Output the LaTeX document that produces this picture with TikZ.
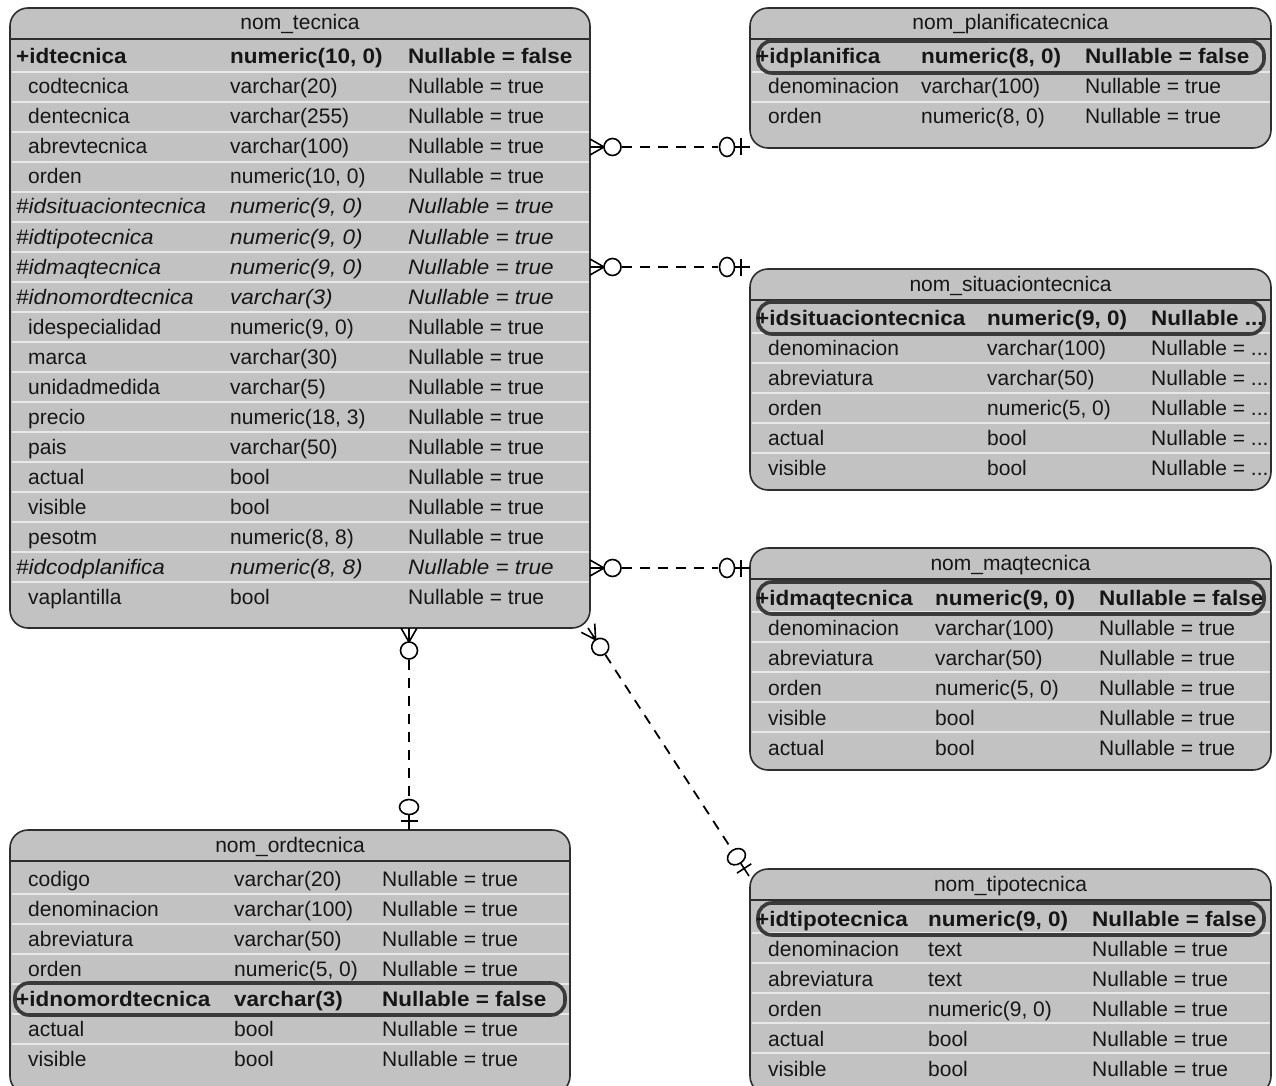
\documentclass[tikz,border=0pt]{standalone}
\usepackage{fontspec}
\setmainfont{Liberation Sans}
\newfontfamily\bfam{Liberation Sans}[FakeStretch=1.07]
\usetikzlibrary{calc}
\definecolor{tabfill}{HTML}{C2C2C2}
\definecolor{tabline}{HTML}{2E2E2E}
\definecolor{sepline}{HTML}{E8E8E8}
\definecolor{keyline}{HTML}{3A3A3A}
\definecolor{txt}{HTML}{161616}
\tikzset{
  tbl/.style={fill=tabfill, draw=tabline, line width=1.6pt, rounded corners=18pt},
  hdr/.style={draw=tabline, line width=2.2pt},
  sepl/.style={draw=sepline, line width=1.6pt},
  keyoval/.style={draw=keyline, line width=3.6pt, rounded corners=14pt},
  cell/.style={anchor=base west, inner sep=0pt, text=txt, font=\fontsize{21}{24}\selectfont},
  kcell/.style={cell, font=\bfam\bfseries\fontsize{21}{24}\selectfont},
  fcell/.style={cell, font=\bfam\itshape\fontsize{21}{24}\selectfont},
  ttl/.style={anchor=base, inner sep=0pt, text=txt, font=\fontsize{21}{24}\selectfont},
  conn/.style={draw=black, line width=1.8pt, dash pattern=on 10pt off 8pt},
  endmk/.style={draw=black, line width=1.6pt},
  manyopt/.pic={
    \draw[endmk] (0,-8)--(14,0) (0,0)--(14,0) (0,8)--(14,0);
    \draw[endmk] (22.5,0) circle[radius=8.5pt];
  },
  oneopt/.pic={
    \draw[endmk] (-16,0)--(0,0) (-9,-8.5)--(-9,8.5);
    \draw[endmk] (-23,0) ellipse[x radius=7.5pt, y radius=9.5pt];
  }
}
\newcount\rowid
% #1 name, #2 x1, #3 y1, #4 x2, #5 y2, #6 last separator index, #7 title
\newcommand\erdtable[7]{%
  \draw[tbl] (#2,#3) rectangle (#4,#5);
  \coordinate (#1-nw) at (#2,#3);
  \coordinate (#1-se) at (#4,#5);
  \foreach \k in {1,...,#6}{\draw[sepl] (#2+1.5,#3+34+30*\k) -- (#4-1.5,#3+34+30*\k);}
  \draw[hdr] (#2+1,#3+31) -- (#4-1,#3+31);
  \node[ttl] (#1-title) at ({(#2+#4)/2},#3+22) {#7};
}
% #1 style, #2 y center, #3 name x, #4 name, #5 type, #6 null
\newcommand\rw[6]{%
  \global\advance\rowid by 1
  \node[#1] (r\the\rowid a) at (#3,#2+7) {#4};
  \node[#1] (r\the\rowid b) at (\cB,#2+7) {#5};
  \node[#1] (r\the\rowid c) at (\cC,#2+7) {#6};
}
\begin{document}
\begin{tikzpicture}[x=1pt,y=-1pt]
\fill[white] (0,0) rectangle (1276,1086);
\useasboundingbox (0,0) rectangle (1276,1086);

% ---------------- nom_tecnica
\erdtable{tec}{10}{8}{590}{628}{18}{nom\_tecnica}
\def\cB{230}\def\cC{408}
\rw{kcell}{57}{16}{+idtecnica}{numeric(10, 0)}{Nullable = false}
\rw{cell}{87}{28}{codtecnica}{varchar(20)}{Nullable = true}
\rw{cell}{117}{28}{dentecnica}{varchar(255)}{Nullable = true}
\rw{cell}{147}{28}{abrevtecnica}{varchar(100)}{Nullable = true}
\rw{cell}{177}{28}{orden}{numeric(10, 0)}{Nullable = true}
\rw{fcell}{207}{16}{\#idsituaciontecnica}{numeric(9, 0)}{Nullable = true}
\rw{fcell}{237}{16}{\#idtipotecnica}{numeric(9, 0)}{Nullable = true}
\rw{fcell}{267}{16}{\#idmaqtecnica}{numeric(9, 0)}{Nullable = true}
\rw{fcell}{297}{16}{\#idnomordtecnica}{varchar(3)}{Nullable = true}
\rw{cell}{327}{28}{idespecialidad}{numeric(9, 0)}{Nullable = true}
\rw{cell}{357}{28}{marca}{varchar(30)}{Nullable = true}
\rw{cell}{387}{28}{unidadmedida}{varchar(5)}{Nullable = true}
\rw{cell}{417}{28}{precio}{numeric(18, 3)}{Nullable = true}
\rw{cell}{447}{28}{pais}{varchar(50)}{Nullable = true}
\rw{cell}{477}{28}{actual}{bool}{Nullable = true}
\rw{cell}{507}{28}{visible}{bool}{Nullable = true}
\rw{cell}{537}{28}{pesotm}{numeric(8, 8)}{Nullable = true}
\rw{fcell}{567}{16}{\#idcodplanifica}{numeric(8, 8)}{Nullable = true}
\rw{cell}{597}{28}{vaplantilla}{bool}{Nullable = true}

% ---------------- nom_planificatecnica
\erdtable{pla}{750}{8}{1271}{148}{2}{nom\_planificatecnica}
\draw[keyoval] (758,41) rectangle (1264,73);
\def\cB{921}\def\cC{1085}
\rw{kcell}{57}{756}{+idplanifica}{numeric(8, 0)}{Nullable = false}
\rw{cell}{87}{768}{denominacion}{varchar(100)}{Nullable = true}
\rw{cell}{117}{768}{orden}{numeric(8, 0)}{Nullable = true}

% ---------------- nom_situaciontecnica
\erdtable{sit}{750}{269}{1271}{490}{5}{nom\_situaciontecnica}
\draw[keyoval] (758,302) rectangle (1264,334);
\def\cB{987}\def\cC{1151}
\rw{kcell}{318}{756}{+idsituaciontecnica}{numeric(9, 0)}{Nullable ...}
\rw{cell}{348}{768}{denominacion}{varchar(100)}{Nullable = ...}
\rw{cell}{378}{768}{abreviatura}{varchar(50)}{Nullable = ...}
\rw{cell}{408}{768}{orden}{numeric(5, 0)}{Nullable = ...}
\rw{cell}{438}{768}{actual}{bool}{Nullable = ...}
\rw{cell}{468}{768}{visible}{bool}{Nullable = ...}

% ---------------- nom_maqtecnica
\erdtable{maq}{750}{548}{1271}{770}{5}{nom\_maqtecnica}
\draw[keyoval] (758,582) rectangle (1264,614);
\def\cB{935}\def\cC{1099}
\rw{kcell}{598}{756}{+idmaqtecnica}{numeric(9, 0)}{Nullable = false}
\rw{cell}{628}{768}{denominacion}{varchar(100)}{Nullable = true}
\rw{cell}{658}{768}{abreviatura}{varchar(50)}{Nullable = true}
\rw{cell}{688}{768}{orden}{numeric(5, 0)}{Nullable = true}
\rw{cell}{718}{768}{visible}{bool}{Nullable = true}
\rw{cell}{748}{768}{actual}{bool}{Nullable = true}

% ---------------- nom_ordtecnica
\erdtable{ord}{10}{830}{570}{1094}{6}{nom\_ordtecnica}
\draw[keyoval] (15,983) rectangle (565,1015);
\def\cB{234}\def\cC{382}
\rw{cell}{879}{28}{codigo}{varchar(20)}{Nullable = true}
\rw{cell}{909}{28}{denominacion}{varchar(100)}{Nullable = true}
\rw{cell}{939}{28}{abreviatura}{varchar(50)}{Nullable = true}
\rw{cell}{969}{28}{orden}{numeric(5, 0)}{Nullable = true}
\rw{kcell}{999}{16}{+idnomordtecnica}{varchar(3)}{Nullable = false}
\rw{cell}{1029}{28}{actual}{bool}{Nullable = true}
\rw{cell}{1059}{28}{visible}{bool}{Nullable = true}

% ---------------- nom_tipotecnica
\erdtable{tip}{750}{869}{1271}{1094}{5}{nom\_tipotecnica}
\draw[keyoval] (758,903) rectangle (1264,935);
\def\cB{928}\def\cC{1092}
\rw{kcell}{919}{756}{+idtipotecnica}{numeric(9, 0)}{Nullable = false}
\rw{cell}{949}{768}{denominacion}{text}{Nullable = true}
\rw{cell}{979}{768}{abreviatura}{text}{Nullable = true}
\rw{cell}{1009}{768}{orden}{numeric(9, 0)}{Nullable = true}
\rw{cell}{1039}{768}{actual}{bool}{Nullable = true}
\rw{cell}{1069}{768}{visible}{bool}{Nullable = true}

% ---------------- connectors
\coordinate (c1s) at (590,147);  \coordinate (c1e) at (750,147);
\coordinate (c2s) at (590,267);  \coordinate (c2e) at (750,267);
\coordinate (c3s) at (590,568);  \coordinate (c3e) at (750,568);
\coordinate (c4s) at (409,628);  \coordinate (c4e) at (409,830);
\coordinate (c5s) at (588,628);  \coordinate (c5e) at (749,876);

\foreach \s/\e/\a in {c1s/c1e/0, c2s/c2e/0, c3s/c3e/0, c4s/c4e/-90, c5s/c5e/-57}{
  \draw[conn] ($(\s)!32pt!(\e)$) -- ($(\e)!32pt!(\s)$);
  \pic[rotate=\a] at (\s) {manyopt};
  \pic[rotate=\a] at (\e) {oneopt};
}
\end{tikzpicture}
\end{document}
